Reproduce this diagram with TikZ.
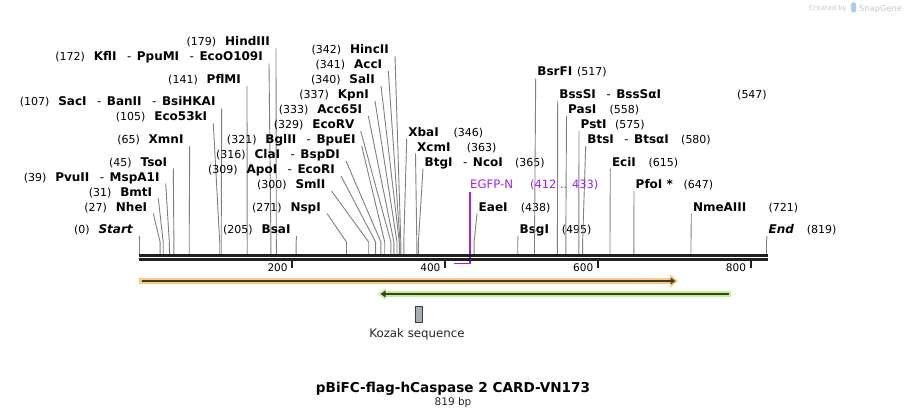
\documentclass[tikz,border=0pt]{standalone}
\usepackage{fontspec}
\setmainfont{DejaVu Sans}[ItalicFont={DejaVu Sans Oblique},BoldFont={DejaVu Sans Bold},BoldItalicFont={DejaVu Sans Bold Oblique}]
\usetikzlibrary{arrows.meta}
\definecolor{sitegray}{RGB}{128,128,128}
\definecolor{seqdark}{RGB}{32,32,32}
\definecolor{orfill}{RGB}{250,202,122}
\definecolor{grfill}{RGB}{192,243,142}
\definecolor{darkln}{RGB}{60,60,60}
\definecolor{egfpc}{RGB}{160,32,240}
\definecolor{kozfill}{RGB}{168,173,181}
\definecolor{credit}{RGB}{200,200,200}
\definecolor{iconblue}{RGB}{170,205,235}
\newcommand{\sepx}{\hspace{10.5pt}{\mdseries -}\hspace{5.5pt}}
\tikzset{
  numlab/.style={inner sep=0pt, font=\fontsize{11}{13}\selectfont, text=black},
  enz/.style={inner sep=0pt, font=\fontsize{12}{14}\selectfont\bfseries, text=black},
  siteln/.style={draw=sitegray, line width=0.9pt},
  ticklab/.style={inner sep=0pt, font=\fontsize{10.5}{12}\selectfont, anchor=base east},
  egfpt/.style={inner sep=0pt, font=\fontsize{11.7}{13}\selectfont, text=egfpc, anchor=base west},
}
% left-hand label: id, number, name, baseline, line x, site x
\newcommand{\lsite}[6]{%
  \node[enz, anchor=base east] (#1) at ({#5-6},#4) {#3};
  \node[numlab, anchor=base east] (#1n) at ([xshift=-8.5pt]#1.base west) {(#2)};
  \coordinate (#1b) at (#6,254);
  \draw[siteln] ([xshift=6pt,yshift=-2.5pt]#1.base east) -- ([yshift=12pt]#1b) -- (#1b);
}
% right-hand label: id, number, name, number x, baseline, line x, site x
\newcommand{\rsite}[7]{%
  \node[enz, anchor=base west] (#1) at ({#6+1.5},#5) {#3};
  \node[numlab, anchor=base west] (#1n) at (#4,#5) {(#2)};
  \coordinate (#1b) at (#7,254);
  \draw[siteln] ([xshift=-1.5pt,yshift=-2.5pt]#1.base west) -- ([yshift=12pt]#1b) -- (#1b);
}
\begin{document}
\begin{tikzpicture}[x=1pt,y=-1pt]
\useasboundingbox (0,0) rectangle (907,417);
\fill[white] (0,0) rectangle (907,417);

% ---- left-hand sites
\lsite{hind}{179}{HindIII}{46}{276}{276.3}
\lsite{kfl}{172}{KflI\sepx PpuMI\sepx EcoO109I}{61}{269}{270.9}
\lsite{pfl}{141}{PflMI}{83.5}{247}{247.2}
\lsite{sac}{107}{SacI\sepx BanII\sepx BsiHKAI}{106}{221.7}{221.2}
\lsite{ecofs}{105}{Eco53kI}{121}{213.3}{219.7}
\lsite{xmn}{65}{XmnI}{143.5}{189.7}{189.2}
\lsite{tso}{45}{TsoI}{166}{173.3}{173.9}
\lsite{pvu}{39}{PvuII\sepx MspA1I}{181}{165.7}{169.3}
\lsite{bmt}{31}{BmtI}{196}{158.3}{163.2}
\lsite{nhe}{27}{NheI}{211}{153.3}{160.1}
\lsite{start}{0}{\textit{Start}}{233.5}{139.3}{139.5}

% ---- middle sites
\lsite{hinc}{342}{HincII}{53.5}{395}{400.8}
\lsite{acc}{341}{AccI}{68.5}{388.3}{400}
\lsite{sal}{340}{SalI}{83.5}{381}{399.3}
\lsite{kpn}{337}{KpnI}{98.5}{375}{397}
\lsite{accsf}{333}{Acc65I}{113.5}{368.3}{393.9}
\lsite{ecorv}{329}{EcoRV}{128.5}{360.7}{390.9}
\lsite{bgl}{321}{BglII\sepx BpuEI}{143.5}{361.7}{384.7}
\lsite{cla}{316}{ClaI\sepx BspDI}{158.5}{346}{380.9}
\lsite{apo}{309}{ApoI\sepx EcoRI}{173.5}{341}{375.6}
\lsite{sml}{300}{SmlI}{188.5}{331.5}{368.7}
\lsite{nsp}{271}{NspI}{211}{327}{346.5}
\lsite{bsa}{205}{BsaI}{233.5}{296.7}{296.1}

% ---- right-hand sites
\rsite{xba}{346}{XbaI}{453.3}{136}{406.7}{403.8}
\rsite{xcm}{363}{XcmI}{466.7}{151}{415.5}{416.8}
\rsite{btg}{365}{BtgI\sepx NcoI}{515}{166}{423}{418.4}
\rsite{eae}{438}{EaeI}{520.7}{211}{477}{474.1}
\rsite{bsg}{495}{BsgI}{561.7}{233.5}{518}{517.7}
\rsite{bsrf}{517}{BsrFI}{577}{76}{535.7}{534.5}
\rsite{bsss}{547}{BssSI\sepx BssSαI}{737}{98.5}{557.7}{557.4}
\rsite{pas}{558}{PasI}{609.3}{113.5}{566.5}{565.8}
\rsite{pst}{575}{PstI}{615}{128.5}{579}{578.8}
\rsite{bts}{580}{BtsI\sepx BtsαI}{681}{143.5}{585.7}{582.6}
\rsite{eci}{615}{EciI}{648.3}{166}{610.3}{610}
\rsite{pfo}{647}{PfoI *}{683.3}{188.5}{634}{633.8}
\rsite{nme}{721}{NmeAIII}{768.3}{211}{691.3}{691}
\rsite{fin}{819}{\textit{End}}{806.7}{233.5}{767}{766.5}

% ---- EGFP-N primer
\node[egfpt] (egfp) at (470,188.5) {EGFP-N};
\node[egfpt, font=\fontsize{11.4}{13}\selectfont] (egfpr) at (530,188.5) {(412 .. 433)};
\coordinate (egfpS) at (454.3,263.5);
\draw[draw=egfpc, line width=1.5pt] ([yshift=-3pt]egfp.base west) |- (egfpS);

% ---- sequence line
\draw[seqdark, line width=2.6pt] (138.5,255.2) -- (767.5,255.2);
\draw[seqdark, line width=2.6pt] (138.5,259.6) -- (767.5,259.6);

% ---- ticks
\foreach \p/\t in {292.3/200, 445.1/400, 597.9/600, 750.7/800}{
  \draw[seqdark, line width=2pt] (\p,261) -- (\p,268);
  \node[ticklab] (tk\t) at ({\p-4.5},271.5) {\t};
}

% ---- features
\fill[orfill] (139,277.8) rectangle (670.5,284.2);
\fill[orfill] (670,274.3) -- (678,281) -- (670,287.7) -- cycle;
\draw[darkln, line width=2pt, -{Triangle[length=5pt,width=6.5pt]}] (141.5,281) -- (675.5,281);

\fill[grfill] (385,291) rectangle (731,297);
\fill[grfill] (385.5,288.3) -- (377.5,294) -- (385.5,299.7) -- cycle;
\draw[darkln, line width=2pt, -{Triangle[length=5pt,width=6.5pt]}] (729,294) -- (380.5,294);

\node[draw=darkln, fill=kozfill, line width=0.8pt, minimum width=7.5pt, minimum height=16pt, inner sep=0pt] (koz) at (419,314) {};
\node[inner sep=0pt, anchor=base, font=\fontsize{11.8}{14}\selectfont, text=black!85] (kozt) at (417,337) {Kozak sequence};

% ---- title
\node[inner sep=0pt, anchor=base, font=\fontsize{13.6}{16}\selectfont\bfseries] (title) at (453,392) {pBiFC-flag-hCaspase 2 CARD-VN173};
\node[inner sep=0pt, anchor=base, font=\fontsize{10.5}{12}\selectfont, text=black!85] (bp) at (453,405) {819 bp};

% ---- credit
\node[inner sep=0pt, anchor=base west, font=\fontsize{6.8}{8}\selectfont, text=credit] (cr1) at (809,11) {Created by};
\fill[iconblue, rounded corners=1.5pt] (851,2.5) rectangle (856,12.5);
\node[inner sep=0pt, anchor=base west, font=\fontsize{8.3}{10}\selectfont, text=credit] (cr2) at (859,11.5) {SnapGene};
\end{tikzpicture}
\end{document}
